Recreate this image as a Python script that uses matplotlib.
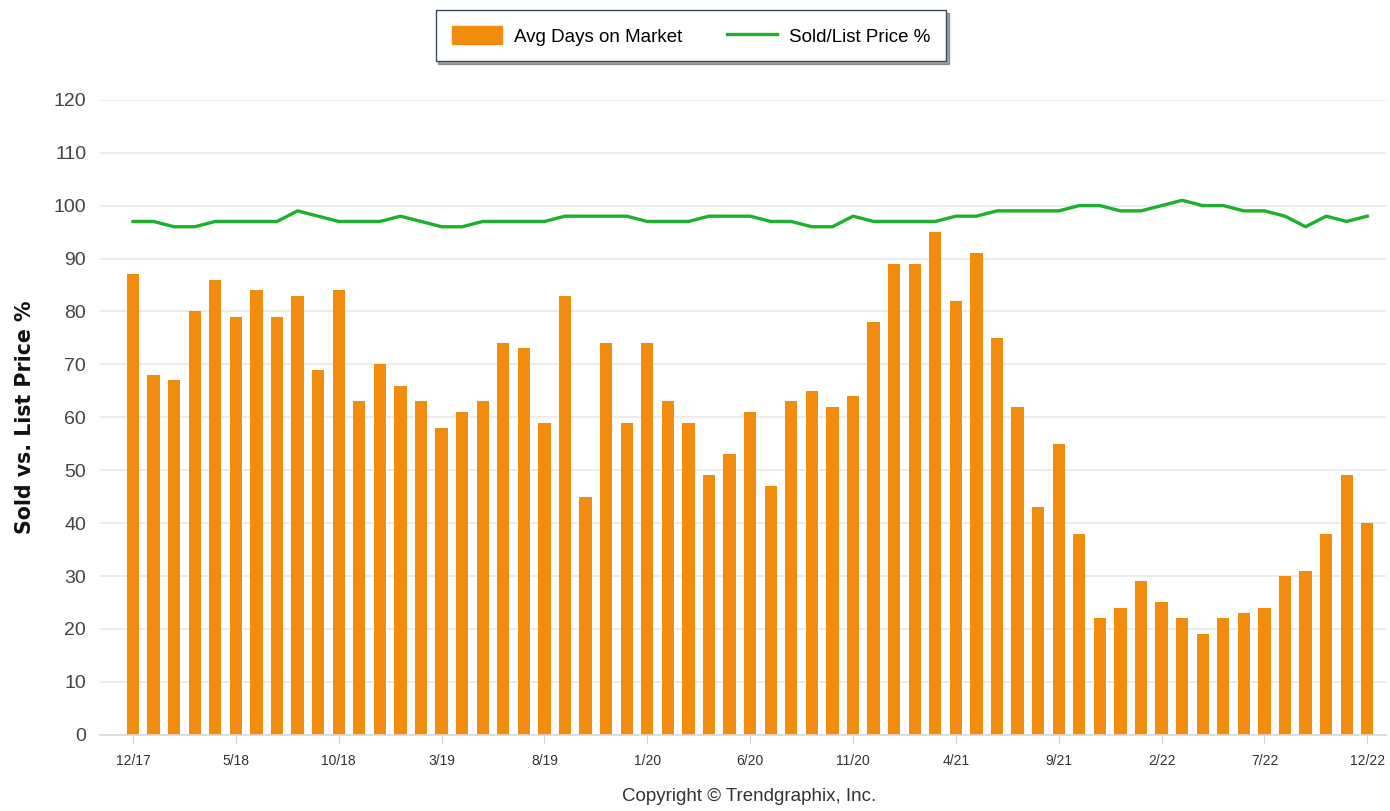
# Avg days on market (bars) with sold/list price % (line), monthly 12/17 - 12/22
import matplotlib.pyplot as plt
from matplotlib.lines import Line2D
from matplotlib.patches import Patch

months = [f"{m}/{y}" for y, ms in [(17, [12]), (18, range(1, 13)), (19, range(1, 13)),
                                   (20, range(1, 13)), (21, range(1, 13)), (22, range(1, 13))]
          for m in ms]

avg_days = [87, 68, 67, 80, 86, 79, 84, 79, 83, 69, 84, 63, 70, 66, 63, 58, 61, 63, 74, 73,
            59, 83, 45, 74, 59, 74, 63, 59, 49, 53, 61, 47, 63, 65, 62, 64, 78, 89, 89, 95,
            82, 91, 75, 62, 43, 55, 38, 22, 24, 29, 25, 22, 19, 22, 23, 24, 30, 31, 38, 49,
            40]

sold_list_pct = [97, 97, 96, 96, 97, 97, 97, 97, 99, 98, 97, 97, 97, 98, 97, 96, 96, 97, 97, 97,
                 97, 98, 98, 98, 98, 97, 97, 97, 98, 98, 98, 97, 97, 96, 96, 98, 97, 97, 97, 97,
                 98, 98, 99, 99, 99, 99, 100, 100, 99, 99, 100, 101, 100, 100, 99, 99, 98, 96, 98, 97,
                 98]

tick_every = 5
bar_color = "#F28C0F"
line_color = "#1DB02A"

fig = plt.figure(figsize=(13.9, 8.11), dpi=100)
ax = fig.add_axes([0.072, 0.094, 0.925, 0.783])

x = list(range(len(months)))
ax.bar(x, avg_days, width=0.6, color=bar_color, zorder=2)
ax.plot(x, sold_list_pct, color=line_color, lw=2.4, solid_joinstyle="round", zorder=3)

ax.set_xlim(-1.6, 60.9)
ax.set_ylim(0, 120)
ax.set_yticks(range(0, 121, 10))
ax.grid(axis="y", color="#E9E9E9", lw=1.2, zorder=0)
ax.set_xticks(x[::tick_every])
ax.set_xticklabels(months[::tick_every], family="Liberation Sans", fontsize=10, color="#333333")
for lab in ax.get_yticklabels():
    lab.set_family("Liberation Sans")
    lab.set_fontsize(14)
    lab.set_color("#444444")

for side in ["top", "right", "left"]:
    ax.spines[side].set_visible(False)
ax.spines["bottom"].set_color("#D8D8D8")
ax.spines["bottom"].set_linewidth(1.2)
ax.tick_params(axis="y", length=0, pad=10)
ax.tick_params(axis="x", length=6, color="#D0D0D0", pad=8)

fig.text(0.018, 0.485, "Sold vs. List Price %", rotation=90, ha="center", va="center",
         fontsize=14.8, fontweight="bold", family="DejaVu Sans", color="#111111")

handles = [Patch(color=bar_color, label="Avg Days on Market"),
           Line2D([], [], color=line_color, lw=2.4, label="Sold/List Price %")]
leg = fig.legend(handles=handles, loc="upper center", bbox_to_anchor=(0.497, 0.992), ncol=2,
                 fancybox=False, shadow=True, prop={"family": "Liberation Sans", "size": 13.5},
                 handlelength=2.7, handleheight=1.1, columnspacing=2.4, borderpad=0.85,
                 handletextpad=0.6, borderaxespad=0.2)
leg.get_frame().set_edgecolor("#3A4A5A")
leg.get_frame().set_linewidth(1.0)

fig.text(0.539, 0.012, "Copyright \u00a9 Trendgraphix, Inc.", ha="center",
         family="Liberation Sans", fontsize=13.5, color="#333333")

fig.savefig("out.png")
